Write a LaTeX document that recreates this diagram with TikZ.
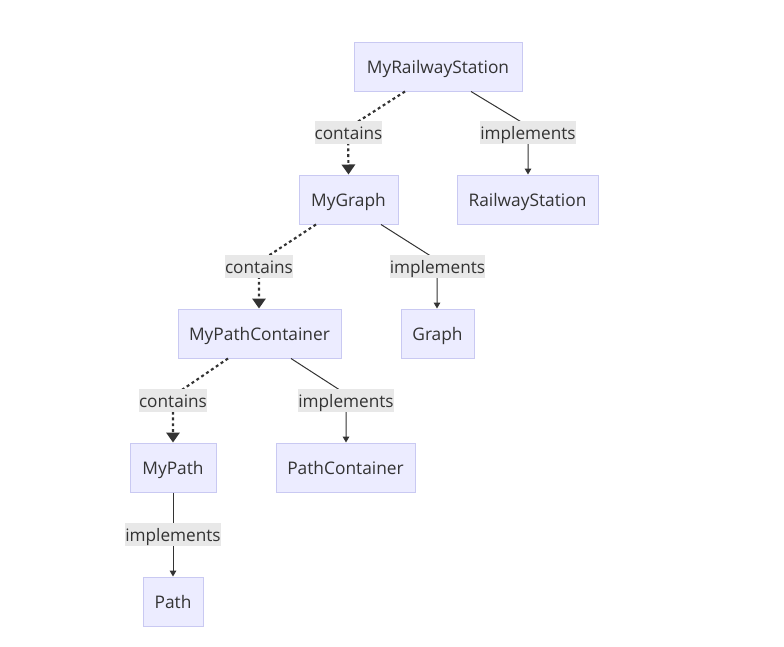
\documentclass[tikz,border=0pt]{standalone}
\usepackage{fontspec}
\setmainfont{Open Sans}
\usetikzlibrary{arrows.meta}
\definecolor{nodefill}{HTML}{ECECFF}
\definecolor{nodeline}{HTML}{C9C9F2}
\definecolor{ink}{HTML}{333333}
\definecolor{lblbg}{HTML}{E8E8E8}
\tikzset{
  cls/.style={draw=nodeline, fill=nodefill, line width=0.75pt, text=ink, font=\fontsize{13}{15}\selectfont, inner sep=0pt, text height=14pt, text depth=3pt, minimum height=49*0.75pt, anchor=center},
  lbl/.style={fill=lblbg, text=ink, font=\fontsize{12.9}{15}\selectfont, inner xsep=0pt, inner ysep=0pt, text height=12.8pt, text depth=3pt, minimum height=23*0.75pt},
  contain/.style={draw=ink, line width=1.6pt, dash pattern=on 2.2pt off 2.2pt, -{Triangle[length=7.5pt,width=10pt]}},
  impl/.style={draw=ink, line width=0.75pt, -{Triangle[length=4.5pt,width=5pt]}},
}
\begin{document}
\begin{tikzpicture}[x=0.75pt,y=-0.75pt]
\useasboundingbox (0,0) rectangle (784,646);
% nodes
\node[cls, minimum width=168*0.75pt] (mrs) at (438,66.5) {MyRailwayStation};
\node[cls, minimum width=99*0.75pt] (mg) at (348.5,199.5) {MyGraph};
\node[cls, minimum width=141*0.75pt] (rs) at (527.5,199.5) {RailwayStation};
\node[cls, minimum width=163*0.75pt] (mpc) at (259.5,333.5) {MyPathContainer};
\node[cls, minimum width=73*0.75pt] (g) at (437.5,333.5) {Graph};
\node[cls, minimum width=86*0.75pt] (mp) at (173,467.5) {MyPath};
\node[cls, minimum width=139*0.75pt] (pc) at (345.5,467.5) {PathContainer};
\node[cls, minimum width=60*0.75pt] (p) at (173,601.5) {Path};
% bend points
\coordinate (c1) at (348,128);
\coordinate (i1) at (528,126);
\coordinate (c2) at (259,262);
\coordinate (i2) at (437,260);
\coordinate (c3) at (173,396);
\coordinate (i3) at (346,394);
% edges
\draw[contain] (mrs.south -| 405,0) -- (c1) -- (mg.north);
\draw[impl] (mrs.south -| 471,0) -- (i1) -- (rs.north -| i1);
\draw[contain] (mg.south -| 316,0) -- (c2) -- (mpc.north -| c2);
\draw[impl] (mg.south -| 381,0) -- (i2) -- (g.north -| i2);
\draw[contain] (mpc.south -| 228,0) -- (c3) -- (mp.north);
\draw[impl] (mpc.south -| 291,0) -- (i3) -- (pc.north -| i3);
\draw[impl] (mp.south) -- (p.north);
% labels
\node[lbl] (l1) at (348.5,132.5) {contains};
\node[lbl] (l2) at (528,132.5) {implements};
\node[lbl] (l3) at (259,266.5) {contains};
\node[lbl] (l4) at (437.5,266.5) {implements};
\node[lbl] (l5) at (173,400.5) {contains};
\node[lbl] (l6) at (346,400.5) {implements};
\node[lbl] (l7) at (173,534.5) {implements};
\end{tikzpicture}
\end{document}
